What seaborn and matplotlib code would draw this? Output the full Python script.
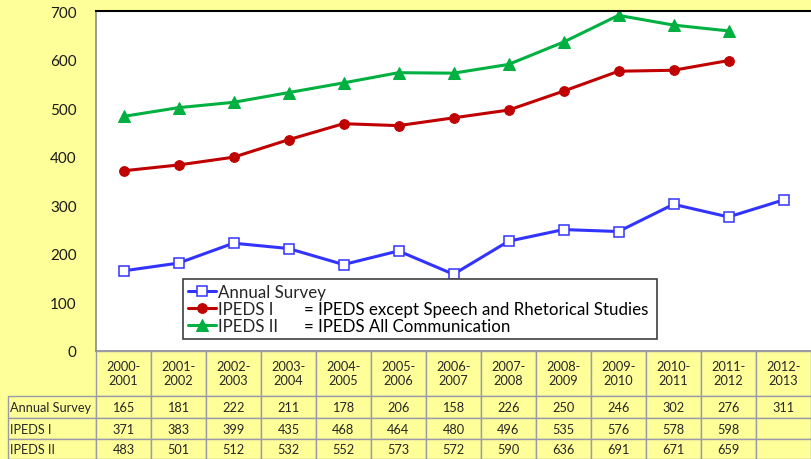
import numpy as np
import pandas as pd
import matplotlib
matplotlib.use("Agg")
import matplotlib.pyplot as plt
import seaborn as sns

years = ['2000-\n2001', '2001-\n2002', '2002-\n2003', '2003-\n2004', '2004-\n2005',
         '2005-\n2006', '2006-\n2007', '2007-\n2008', '2008-\n2009', '2009-\n2010',
         '2010-\n2011', '2011-\n2012', '2012-\n2013']
annual_survey = [165, 181, 222, 211, 178, 206, 158, 226, 250, 246, 302, 276, 311]
ipeds_1 = [371, 383, 399, 435, 468, 464, 480, 496, 535, 576, 578, 598]
ipeds_2 = [483, 501, 512, 532, 552, 573, 572, 590, 636, 691, 671, 659]
series_names = ['Annual Survey', 'IPEDS I', 'IPEDS II']
notes = ['= IPEDS except Speech and Rhetorical Studies', '= IPEDS All Communication']
yticks = [0, 100, 200, 300, 400, 500, 600, 700]

bg = '#FFFF99'
sns.set_style("white")
plt.rcParams['font.family'] = ['Lato', 'DejaVu Sans']

fig = plt.figure(figsize=(8.11, 4.60), dpi=100, facecolor=bg)
W, H = 811, 460
ax = fig.add_axes([96 / W, (H - 352) / H, (W - 96) / W, 340 / H])
ax.set_facecolor('white')

sns.lineplot(x=np.arange(len(annual_survey)), y=annual_survey, ax=ax, color='#3333FF',
             lw=2.2, marker='s', ms=6.5, mfc='white', mec='#3333FF', mew=1.1,
             label=series_names[0])
sns.lineplot(x=np.arange(len(ipeds_1)), y=ipeds_1, ax=ax, color='#C00000',
             lw=2.2, marker='o', ms=7, mec='#C00000', label=series_names[1])
sns.lineplot(x=np.arange(len(ipeds_2)), y=ipeds_2, ax=ax, color='#00B040',
             lw=2.2, marker='^', ms=8, mec='#00B040', label=series_names[2])

ax.set_xlim(-0.5, len(years) - 0.5)
ax.set_ylim(0, 700)
ax.set_yticks(yticks)
ax.set_xticks([])
ax.set_xlabel('')
ax.set_ylabel('')
ax.tick_params(axis='y', length=0, pad=14, labelsize=11, labelcolor='#1a1a1a')
for side in ['left', 'bottom']:
    ax.spines[side].set_color('#8a8a8a')
    ax.spines[side].set_linewidth(1.2)
ax.spines['top'].set_color('black')
ax.spines['top'].set_linewidth(1.5)
ax.spines['right'].set_visible(False)

leg = ax.legend(loc='lower left', bbox_to_anchor=(0.1217, 0.0353, 0.663, 0.18),
                mode='expand', borderaxespad=0, fontsize=12.2, frameon=True,
                fancybox=False, edgecolor='#404040', framealpha=1,
                handlelength=1.65, handletextpad=0.1, labelspacing=0.05,
                borderpad=0.3)
leg.get_frame().set_linewidth(1.2)

fig.canvas.draw()
inv = ax.transAxes.inverted()
x_note = (304 - 96) / 715
for txt, note in zip(leg.get_texts()[1:], notes):
    bb = txt.get_window_extent()
    yc = inv.transform((0, (bb.y0 + bb.y1) / 2))[1]
    ax.text(x_note, yc, note, transform=ax.transAxes, fontsize=12.2,
            va='center', ha='left', color='black', zorder=10)

# data table under the plot
tax = fig.add_axes([8 / W, 0, (W - 8) / W, 108 / H])
tax.axis('off')
cell_text = [[series_names[0]] + [str(v) for v in annual_survey],
             [series_names[1]] + [str(v) for v in ipeds_1] + [''],
             [series_names[2]] + [str(v) for v in ipeds_2] + ['']]
col_w = [88 / 803] + [55 / 803] * len(years)
tbl = tax.table(cellText=cell_text, colLabels=[''] + years, colWidths=col_w,
                cellLoc='center', bbox=[0, 0, 1, 1])
tbl.auto_set_font_size(False)
tbl.set_fontsize(9.2)
row_h = [45, 23, 21, 20]
for (r, c), cell in tbl.get_celld().items():
    cell.set_facecolor(bg)
    cell.set_edgecolor('#9a9aaa')
    cell.set_linewidth(1)
    cell.set_height(row_h[r])
    if c == 0:
        cell._loc = 'left'
        cell.get_text().set_horizontalalignment('left')
        cell.PAD = 0.02
    if r == 0 and c == 0:
        cell.visible_edges = 'open'

plt.savefig('out.png', dpi=100, facecolor=bg)
